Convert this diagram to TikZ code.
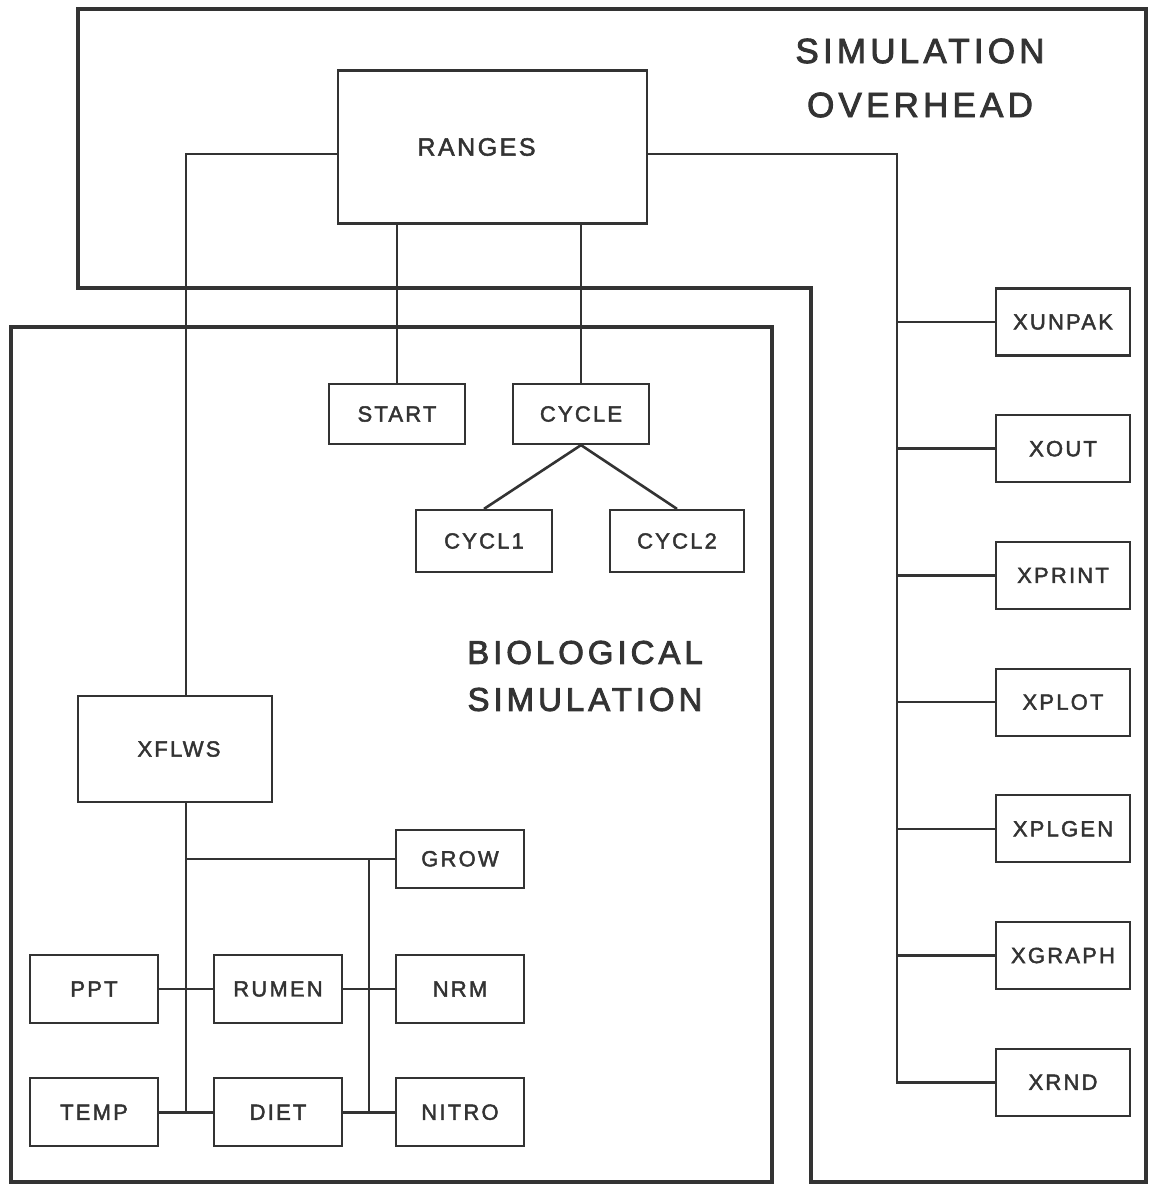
\documentclass[tikz,border=0pt]{standalone}
\usepackage{fontspec}
\setmainfont{Liberation Sans}
\newfontfamily\boxfont[LetterSpace=10, FakeBold=2]{Liberation Sans}
\newfontfamily\headfont[LetterSpace=12, FakeBold=2.5]{Liberation Sans}
\usepackage{tikz}
\usetikzlibrary{positioning, calc}
\definecolor{ink}{HTML}{333333}
\tikzset{
  module/.style  = {rectangle, draw=ink, line width=2.2pt, fill=white,
                    minimum width=128pt, minimum height=68pt, inner sep=0pt,
                    text=ink, font=\boxfont\fontsize{22}{26}\selectfont},
  xmod/.style    = {module, minimum width=134pt, minimum height=67pt},
  frame/.style   = {draw=ink, line width=3.6pt},
  link/.style    = {draw=ink, line width=2.6pt},
  heading/.style = {align=center, text=ink, inner sep=0pt},
}

\begin{document}
\begin{tikzpicture}[x=1pt, y=-1pt, node distance=57.5pt]
  \useasboundingbox (0,0) rectangle (1149,1184);

  % ----- frames -----
  \draw[frame] (78,9) -- (1146,9) -- (1146,1182) -- (811,1182) -- (811,288) -- (78,288) -- cycle;
  \draw[frame] (11,327) -- (772,327) -- (772,1182) -- (11,1182) -- cycle;

  \node[heading, font=\headfont\fontsize{35}{54}\selectfont] (ovhd) at (920,78)
       {SIMULATION\\OVERHEAD};
  \node[heading, font=\headfont\fontsize{33}{47}\selectfont] (biohd) at (585,676)
       {BIOLOGICAL\\SIMULATION};

  % ----- top -----
  \node[module, minimum width=309pt, minimum height=153pt,
        font=\boxfont\fontsize{25}{30}\selectfont] (ranges) at (492.5,147) {RANGES\hspace*{32pt}};
  \node[module, minimum width=136pt, minimum height=60pt] (start) at (397,414) {START};
  \node[module, minimum width=136pt, minimum height=60pt] (cycle) at (581,414) {CYCLE};
  \node[module, minimum width=136pt, minimum height=62pt] (cycl1) at (484,541) {CYCL1};
  \node[module, minimum width=134pt, minimum height=62pt] (cycl2) at (677,541) {CYCL2};

  \draw[link] (start.north |- ranges.south) -- (start.north);
  \draw[link] (cycle.north |- ranges.south) -- (cycle.north);
  \draw[link] (cycle.south) -- (cycl1.north);
  \draw[link] (cycle.south) -- (cycl2.north);

  % ----- biological simulation -----
  \node[module, minimum width=194pt, minimum height=106pt] (xflws) at (175,749) {\hspace*{8pt}XFLWS};
  \node[module] (ppt) at (94,989) {PPT};
  \node[module, right=53.8pt of ppt] (rumen) {RUMEN};
  \node[module, right=51.8pt of rumen] (nrm) {NRM};
  \node[module, below=53pt of ppt] (temp) {TEMP};
  \node[module, below=53pt of rumen] (diet) {DIET};
  \node[module, below=53pt of nrm] (nitro) {NITRO};
  \node[module, minimum height=58pt, above=65pt of nrm] (grow) {GROW};

  \coordinate (busL) at ($(ppt.east)!0.5!(rumen.west)$);
  \coordinate (busM) at ($(rumen.east)!0.5!(nrm.west)$);

  \draw[link] ([yshift=-7pt]ranges.west) -| (busL |- xflws.north);
  \draw[link] (busL |- xflws.south) -- (busL |- temp.east);
  \draw[link] (busL |- grow.west) -- (grow.west);
  \draw[link] (busM |- grow.west) -- (busM |- nitro.west);
  \draw[link] (ppt) -- (rumen);
  \draw[link] (rumen) -- (nrm);
  \draw[link] (temp) -- (diet);
  \draw[link] (diet) -- (nitro);

  % ----- overhead column -----
  \node[xmod] (xunpak) at (1063,322) {XUNPAK};
  \node[xmod, below=of xunpak] (xout) {XOUT};
  \node[xmod, below=of xout] (xprint) {XPRINT};
  \node[xmod, below=of xprint] (xplot) {XPLOT};
  \node[xmod, below=of xplot] (xplgen) {XPLGEN};
  \node[xmod, below=of xplgen] (xgraph) {XGRAPH};
  \node[xmod, below=of xgraph] (xrnd) {XRND};

  \coordinate (busR) at ($(xunpak.west)+(-98pt,0)$);

  \draw[link] ([yshift=-7pt]ranges.east) -| (busR |- xrnd.west) -- (xrnd.west);
  \draw[link] (busR |- xunpak.west) -- (xunpak.west);
  \draw[link] (busR |- xout.west) -- (xout.west);
  \draw[link] (busR |- xprint.west) -- (xprint.west);
  \draw[link] (busR |- xplot.west) -- (xplot.west);
  \draw[link] (busR |- xplgen.west) -- (xplgen.west);
  \draw[link] (busR |- xgraph.west) -- (xgraph.west);

\end{tikzpicture}
\end{document}
